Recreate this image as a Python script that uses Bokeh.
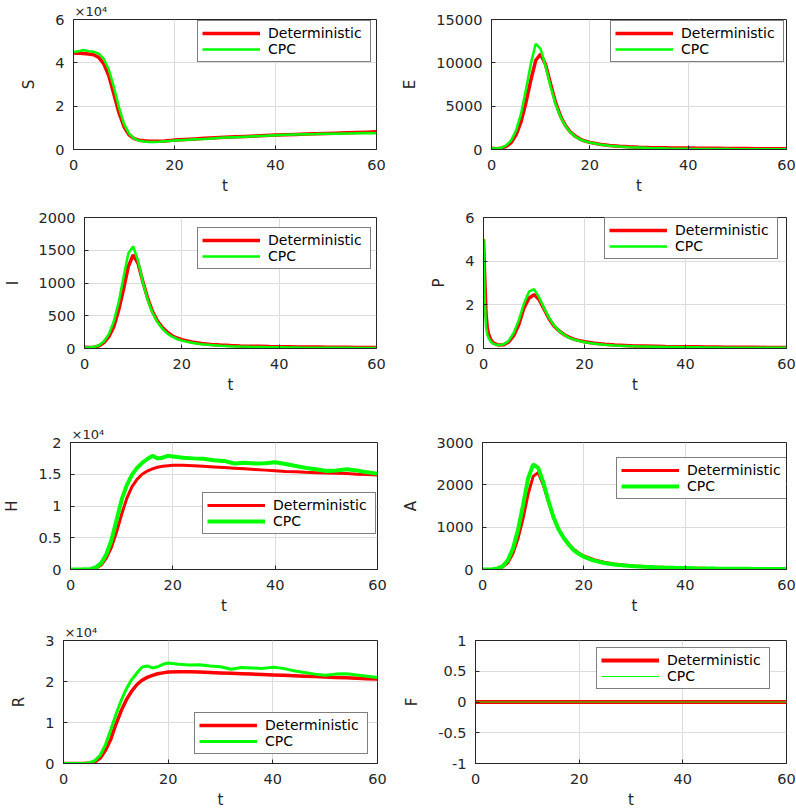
from bokeh.plotting import figure
from bokeh.layouts import column, row
from bokeh.models import FixedTicker, Range1d
from bokeh.embed import file_html
from bokeh.resources import INLINE

# ---------------- data ----------------
T = [0, 1, 2, 3, 4, 5, 6, 7, 8, 9, 10, 11, 12, 13, 14, 15, 16, 17, 18, 19, 20,
     22, 24, 26, 28, 30, 32, 34, 36, 38, 40, 42, 44, 46, 48, 50, 52, 54, 56, 58, 60]

S_DET = [44500, 44400, 44300, 44100, 43700, 42500, 39500, 34000, 25500, 17000, 10500,
         6800, 5000, 4300, 4000, 3850, 3800, 3850, 3950, 4100, 4400,
         4650, 4900, 5150, 5400, 5650, 5850, 6050, 6250, 6450, 6650, 6800, 6950, 7100,
         7250, 7400, 7550, 7700, 7850, 8000, 8150]
S_CPC = [45000, 45300, 45900, 45400, 45100, 44200, 41800, 36800, 28800, 19500, 11800,
         7300, 5000, 4100, 3700, 3500, 3450, 3600, 3800, 3900, 4100,
         4400, 4700, 4900, 5200, 5500, 5700, 5900, 6100, 6300, 6600, 6800, 6900, 7000,
         7100, 7300, 7300, 7400, 7500, 7600, 7500]

E_DET = [150, 100, 150, 350, 800, 1700, 3200, 5400, 8000, 10300, 11000,
         9800, 7600, 5500, 3900, 2800, 2050, 1550, 1200, 980, 820,
         600, 460, 370, 310, 270, 240, 215, 195, 180, 165, 150, 140, 130,
         120, 110, 105, 100, 95, 90, 85]
E_CPC = [150, 120, 200, 480, 1050, 2200, 4100, 6900, 9900, 12200, 11600,
         9600, 7300, 5300, 3800, 2750, 2000, 1500, 1170, 950, 800,
         580, 440, 340, 270, 220, 180, 150, 120, 100, 80, 70, 60, 50,
         45, 40, 35, 30, 30, 25, 25]

I_DET = [20, 15, 20, 40, 90, 180, 330, 580, 900, 1250, 1430,
         1300, 1020, 760, 560, 420, 320, 250, 195, 160, 135,
         100, 78, 62, 52, 45, 40, 36, 33, 30, 28, 26, 24, 22,
         21, 20, 19, 18, 17, 16, 15]
I_CPC = [20, 15, 25, 50, 110, 220, 410, 700, 1080, 1450, 1560,
         1340, 1010, 740, 540, 400, 300, 230, 180, 145, 120,
         88, 66, 52, 42, 35, 30, 26, 23, 20, 18, 16, 14, 13,
         12, 11, 10, 10, 9, 9, 8]

T_P = [0, 0.25, 0.5, 0.75, 1, 1.5, 2, 3, 4, 5, 6, 7, 8, 9, 10, 11, 12, 13, 14, 15,
       16, 17, 18, 19, 20, 22, 24, 26, 28, 30, 32, 34, 36, 38, 40, 42, 44, 46, 48,
       50, 52, 54, 56, 58, 60]
P_DET = [5.0, 3.2, 1.6, 0.95, 0.65, 0.38, 0.25, 0.16, 0.17, 0.3, 0.6, 1.1, 1.85, 2.3,
         2.47, 2.25, 1.8, 1.35, 1.02, 0.8, 0.63, 0.51, 0.42, 0.36, 0.31, 0.24, 0.19,
         0.16, 0.14, 0.12, 0.11, 0.1, 0.09, 0.085, 0.08, 0.075, 0.07, 0.065, 0.06,
         0.06, 0.055, 0.055, 0.05, 0.05, 0.05]
P_CPC = [5.0, 2.2, 1.0, 0.65, 0.48, 0.3, 0.21, 0.15, 0.19, 0.36, 0.72, 1.3, 2.05, 2.6,
         2.72, 2.35, 1.85, 1.4, 1.05, 0.8, 0.62, 0.49, 0.4, 0.34, 0.29, 0.22, 0.17,
         0.14, 0.12, 0.1, 0.09, 0.08, 0.07, 0.065, 0.06, 0.055, 0.05, 0.045, 0.04,
         0.04, 0.035, 0.035, 0.03, 0.03, 0.03]

H_DET = [0, 0, 0, 10, 50, 200, 700, 1800, 3500, 5900, 8700,
         11200, 13000, 14200, 15000, 15500, 15850, 16100, 16250, 16350, 16400,
         16400, 16350, 16250, 16150, 16050, 15950, 15850, 15750, 15650, 15550, 15450,
         15400, 15300, 15250, 15200, 15150, 15100, 15000, 14950, 14900]
H_CPC = [0, 0, 0, 20, 90, 350, 1000, 2400, 4600, 7800, 11000,
         13300, 14900, 16000, 16800, 17400, 17900, 17500, 17600, 17900, 17800,
         17600, 17500, 17450, 17200, 17100, 16700, 16800, 16700, 16750, 16900, 16600,
         16300, 16000, 15800, 15500, 15600, 15800, 15600, 15300, 15100]

A_DET = [0, 0, 5, 20, 60, 160, 380, 730, 1200, 1780, 2200,
         2290, 2000, 1600, 1230, 950, 760, 610, 480, 390, 320,
         230, 170, 130, 105, 85, 70, 58, 50, 43, 37, 32, 28, 25,
         22, 20, 18, 16, 14, 13, 12]
A_CPC = [0, 0, 5, 25, 80, 220, 490, 930, 1520, 2150, 2480,
         2400, 2060, 1630, 1240, 950, 750, 590, 460, 370, 300,
         210, 155, 120, 95, 78, 64, 53, 45, 39, 34, 29, 25, 22,
         20, 18, 16, 14, 13, 12, 11]

R_DET = [0, 0, 0, 0, 20, 100, 400, 1300, 3200, 5800, 9500,
         12800, 15500, 17600, 19200, 20300, 21000, 21500, 21900, 22100, 22300,
         22400, 22400, 22300, 22200, 22100, 22000, 21900, 21800, 21700, 21600, 21500,
         21400, 21300, 21200, 21100, 21000, 20900, 20800, 20700, 20600]
R_CPC = [0, 0, 0, 0, 30, 180, 700, 2000, 4500, 8100, 11900,
         15300, 18200, 20400, 22000, 23500, 23800, 23300, 23600, 24200, 24500,
         24200, 24000, 24100, 23800, 23600, 23000, 23400, 23300, 23200, 23500, 23200,
         22600, 22200, 21800, 21500, 21800, 21900, 21600, 21300, 21000]

T_F = [0, 60]
F_DET = [0, 0]
F_CPC = [0, 0]

X_TICKS = [0, 20, 40, 60]
X_LABELS = ["0", "20", "40", "60"]

FONT = "DejaVu Sans"
DARK = "#262626"


def panel(ylabel, t, det, cpc, yr, yticks, ylabels, width, height, borders,
          leg_loc, lw_det, lw_cpc, exp=False):
    top, right, bottom, left = borders
    p = figure(width=width, height=height, x_range=Range1d(0, 60),
               y_range=Range1d(*yr), output_backend="svg", toolbar_location=None,
               tools="", min_border_top=top, min_border_right=right,
               min_border_bottom=bottom, min_border_left=left,
               title="×10⁴" if exp else None)
    p.line(t, det, line_color="#ff0000", line_width=lw_det, legend_label="Deterministic")
    p.line(t, cpc, line_color="#00ff00", line_width=lw_cpc, legend_label="CPC")

    if exp:
        p.title.text_font = FONT
        p.title.text_font_size = "13px"
        p.title.text_font_style = "normal"
        p.title.text_color = DARK
        p.title.align = "left"
        p.title.offset = 1
        p.title.standoff = 1

    p.xaxis.ticker = FixedTicker(ticks=X_TICKS)
    p.xaxis.major_label_overrides = dict(zip(X_TICKS, X_LABELS))
    p.yaxis.ticker = FixedTicker(ticks=yticks)
    p.yaxis.major_label_overrides = dict(zip(yticks, ylabels))
    p.xaxis.axis_label = "t"
    p.yaxis.axis_label = ylabel
    for ax in (p.xaxis[0], p.yaxis[0]):
        ax.major_tick_in = 4
        ax.major_tick_out = 0
        ax.minor_tick_line_color = None
        ax.axis_line_color = DARK
        ax.major_tick_line_color = DARK
        ax.major_label_text_font = FONT
        ax.major_label_text_font_size = "14.5px"
        ax.major_label_text_color = DARK
        ax.axis_label_text_font = FONT
        ax.axis_label_text_font_size = "15px"
        ax.axis_label_text_font_style = "normal"
        ax.axis_label_text_color = DARK
    p.xaxis.major_label_standoff = 10
    p.xaxis.axis_label_standoff = 4
    p.yaxis.major_label_standoff = 9
    p.yaxis.axis_label_standoff = 14

    p.grid.grid_line_color = "#dcdcdc"
    p.outline_line_color = DARK
    p.outline_line_alpha = 1
    p.outline_line_width = 1
    p.background_fill_color = "white"
    p.border_fill_color = "white"

    lg = p.legend[0]
    lg.location = leg_loc
    lg.padding = 4
    lg.spacing = 0
    lg.margin = 0
    lg.glyph_width = 58
    lg.glyph_height = 16
    lg.label_height = 16
    lg.label_width = 98
    lg.label_standoff = 8
    lg.label_text_font = FONT
    lg.label_text_font_size = "14px"
    lg.label_text_color = "black"
    lg.border_line_color = "black"
    lg.border_line_width = 1
    lg.background_fill_color = "white"
    lg.background_fill_alpha = 1
    return p


pS = panel("S", T, S_DET, S_CPC, (0, 60000), [0, 20000, 40000, 60000],
           ["0", "2", "4", "6"], 398, 197, (19, 22, 47, 73), (124, 87), 3.5, 2.5, exp=True)
pE = panel("E", T, E_DET, E_CPC, (0, 15000), [0, 5000, 10000, 15000],
           ["0", "5000", "10000", "15000"], 398, 197, (19, 10, 47, 85), (119, 87), 3.5, 2.5)
pI = panel("I", T, I_DET, I_CPC, (0, 2000), [0, 500, 1000, 1500, 2000],
           ["0", "500", "1000", "1500", "2000"], 398, 208, (19, 22, 57, 73), (113, 79), 3.5, 2.5)
pP = panel("P", T_P, P_DET, P_CPC, (0, 6), [0, 2, 4, 6],
           ["0", "2", "4", "6"], 398, 208, (20, 10, 56, 85), (121, 89), 3.5, 2.5)
pH = panel("H", T, H_DET, H_CPC, (0, 20000), [0, 5000, 10000, 15000, 20000],
           ["0", "0.5", "1", "1.5", "2"], 398, 212, (34, 21, 46, 63), (132, 35), 3, 4, exp=True)
pA = panel("A", T, A_DET, A_CPC, (0, 3000), [0, 1000, 2000, 3000],
           ["0", "1000", "2000", "3000"], 398, 212, (37, 10, 47, 77), (134, 70), 3, 4)
pR = panel("R", T, R_DET, R_CPC, (0, 30000), [0, 10000, 20000, 30000],
           ["0", "1", "2", "3"], 398, 194, (23, 21, 44, 63), (131, 9), 3.5, 3, exp=True)
pF = panel("F", T_F, F_DET, F_CPC, (-1, 1), [-1, -0.5, 0, 0.5, 1],
           ["-1", "-0.5", "0", "0.5", "1"], 398, 194, (22, 10, 44, 77), (121, 74), 4, 1)

layout = column(row(pS, pE), row(pI, pP), row(pH, pA), row(pR, pF))

open("out.html", "w").write(file_html(layout, INLINE))
